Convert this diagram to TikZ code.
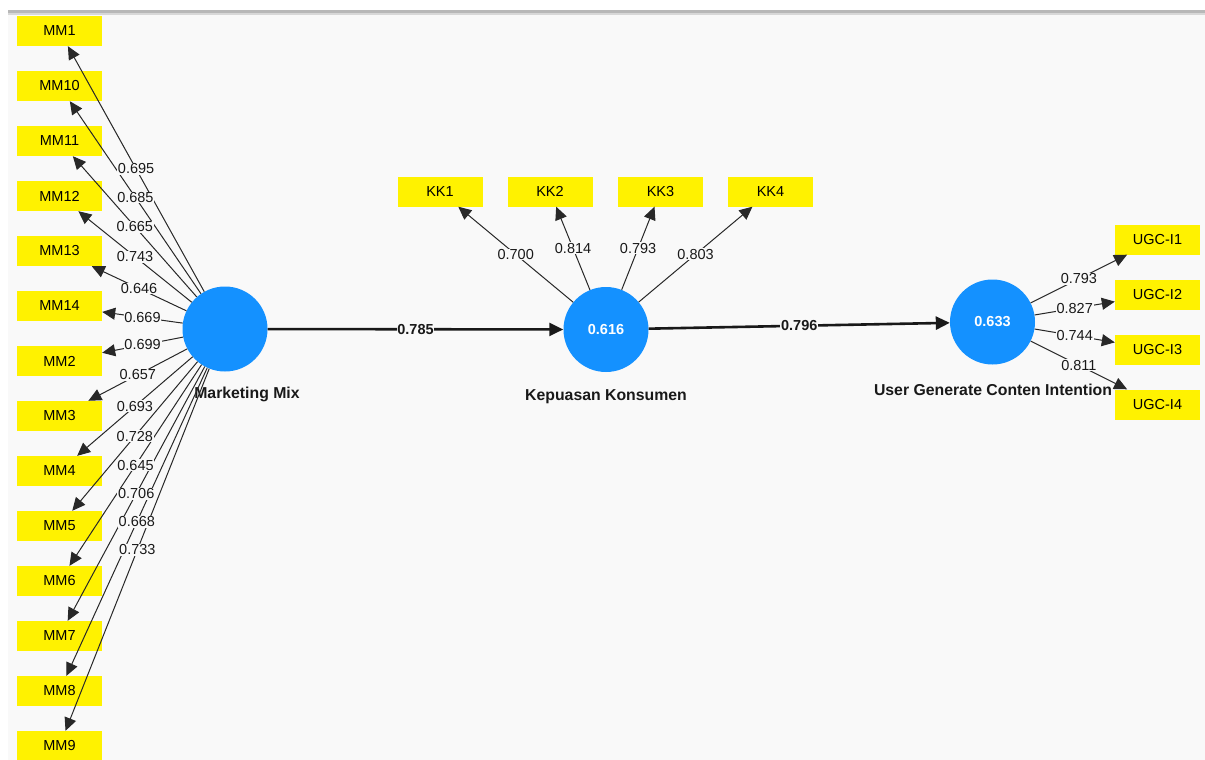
\documentclass[tikz,border=0pt]{standalone}
\usepackage{fontspec}
\setmainfont{Liberation Sans}
\usetikzlibrary{arrows.meta}
\definecolor{bgc}{RGB}{249,249,249}
\definecolor{lvblue}{RGB}{20,145,255}
\definecolor{barA}{RGB}{184,184,184}
\definecolor{barB}{RGB}{216,216,216}
\definecolor{lnc}{RGB}{40,40,40}
\newcommand\fsA{\fontsize{14.5}{16}\selectfont}
\newcommand\fsB{\fontsize{15.8}{18}\selectfont\bfseries}
\tikzset{
  ind/.style={fill=yellow, minimum width=85pt, minimum height=30pt, inner sep=0pt, font=\fsA},
  lv/.style={circle, fill=lvblue, minimum size=85pt, inner sep=0pt, text=white, font=\fsA\bfseries},
  lvname/.style={font=\fsB, text=black!90},
  ld/.style={fill=bgc, inner sep=0.8pt, font=\fsA, text=black!90},
  pc/.style={fill=bgc, inner sep=0.8pt, font=\fsA\bfseries, text=black!90},
  ldarrow/.style={draw=lnc, line width=1pt, -{Triangle[length=13pt,width=12pt]}},
  pcarrow/.style={draw=black!90, line width=2.6pt, -{Triangle[length=14pt,width=13pt]}}
}
\begin{document}
\begin{tikzpicture}[x=1pt,y=-1pt]
\useasboundingbox (0,0) rectangle (1205,760);
\fill[white] (0,0) rectangle (1205,760);
\fill[bgc] (8,14) rectangle (1205,760);
\fill[barA] (8,10.5) rectangle (1205,13);
\fill[barB] (8,13) rectangle (1205,15.5);

% latent variables
\node[lv] (mm) at (225,329) {};
\node[lv] (kk) at (606,329.5) {0.616};
\node[lv] (ugc) at (992.5,322) {0.633};
\node[lvname] (mmname) at (247,394) {Marketing Mix};
\node[lvname] (kkname) at (606,397) {Kepuasan Konsumen};
\node[lvname] (ugcname) at (993,390) {User Generate Conten Intention};

% MM indicators
\foreach \nm/\val [count=\i from 0] in {MM1/0.695,MM10/0.685,MM11/0.665,MM12/0.743,MM13/0.646,MM14/0.669,MM2/0.699,MM3/0.657,MM4/0.693,MM5/0.728,MM6/0.645,MM7/0.706,MM8/0.668,MM9/0.733}{
  \node[ind] (\nm) at (59.5,31+55*\i) {\nm};
}
\foreach \nm/\val in {MM1/0.695,MM10/0.685,MM11/0.665,MM12/0.743,MM13/0.646,MM14/0.669,MM2/0.699,MM3/0.657,MM4/0.693,MM5/0.728,MM6/0.645,MM7/0.706,MM8/0.668,MM9/0.733}{
  \draw[ldarrow] (mm) -- (\nm);
}
\foreach \nm/\val in {MM1/0.695,MM10/0.685,MM11/0.665,MM12/0.743,MM13/0.646,MM14/0.669,MM2/0.699,MM3/0.657,MM4/0.693,MM5/0.728,MM6/0.645,MM7/0.706,MM8/0.668,MM9/0.733}{
  \path (mm) -- (\nm) node[ld, pos=0.5] {\val};
}

% KK indicators
\foreach \nm/\x/\val in {KK1/440/0.700,KK2/550/0.814,KK3/660.5/0.793,KK4/770.5/0.803}{
  \node[ind] (\nm) at (\x,191.5) {\nm};
  \draw[ldarrow] (kk) -- (\nm) node[ld, pos=0.5] {\val};
}

% UGC indicators
\foreach \nm/\y/\val in {UGC-I1/239.5/0.793,UGC-I2/294.5/0.827,UGC-I3/349.5/0.744,UGC-I4/404.5/0.811}{
  \node[ind] (\nm) at (1157.5,\y) {\nm};
  \draw[ldarrow] (ugc) -- (\nm) node[ld, pos=0.5] {\val};
}

% paths
\draw[pcarrow] (mm) -- (kk) node[pc, pos=0.5] {0.785};
\draw[pcarrow] (kk) -- (ugc) node[pc, pos=0.5] {0.796};
\end{tikzpicture}
\end{document}
